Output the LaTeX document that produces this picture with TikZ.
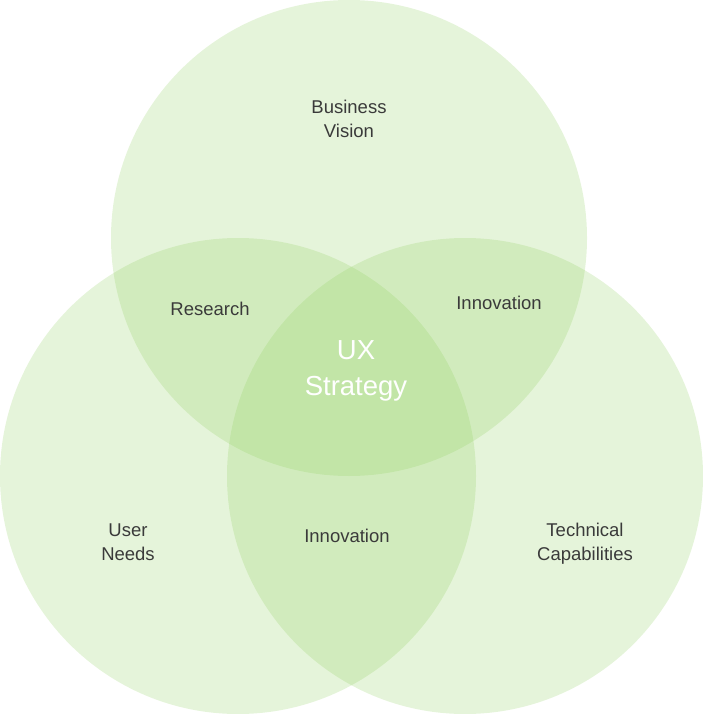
\documentclass[tikz,border=0pt]{standalone}
\usepackage{fontspec}
\setmainfont{Liberation Sans}
\usetikzlibrary{positioning}
\definecolor{cVenn}{HTML}{8FCF5E}
\definecolor{cLabel}{HTML}{3A3A3A}
\tikzset{
  venn/.style={circle, fill=cVenn, fill opacity=0.23, draw=none,
               minimum size=476pt, inner sep=0pt},
  lbl/.style={align=center, text=cLabel, font=\fontsize{18.5}{24}\selectfont},
  core/.style={align=center, text=white, font=\fontsize{27.5}{36}\selectfont},
}

\begin{document}
\begin{tikzpicture}[x=1pt, y=-1pt]
    \useasboundingbox (0,0) rectangle (703,714);
    % the three sets
    \node[venn] (biz)  at (349,238) {};
    \node[venn] (user) at (238,476) {};
    \node[venn] (tech) at (465,476) {};
    % labels
    \node[lbl] (bizlbl)  at (349,119) {Business\\Vision};
    \node[lbl] (userlbl) at (128,542) {User\\Needs};
    \node[lbl] (techlbl) at (585,544) {Technical\\Capabilities};
    \node[lbl] (research) at (210,309) {Research};
    \node[lbl] (innovtop) at (499,303) {Innovation};
    \node[lbl] (innovbot) at (347,536) {Innovation};
    \node[core] (ux) at (356,371) {UX\\Strategy};
  \end{tikzpicture}
\end{document}
